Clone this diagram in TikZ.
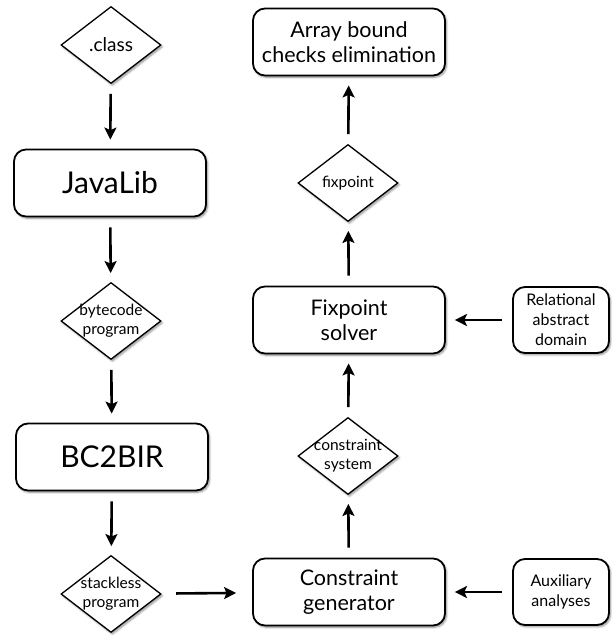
\documentclass[tikz,border=0pt]{standalone}
\usepackage{fontspec}
\setmainfont{Lato}
\usetikzlibrary{shapes.geometric,arrows.meta,shadows.blur}

\begin{document}
\begin{tikzpicture}[x=1pt,y=-1pt,
  shade/.style={blur shadow={shadow xshift=1.5pt,shadow yshift=-1.8pt,shadow blur steps=6,shadow opacity=45}},
  box/.style={draw, line width=1.8pt, rounded corners=12pt, fill=white, align=center, inner sep=0pt,
    minimum width=192pt, minimum height=67pt, font=\fontsize{21.5}{25}\selectfont, shade},
  bigbox/.style={box, font=\fontsize{30}{34}\selectfont},
  sidebox/.style={box, minimum width=96pt, minimum height=66pt, font=\fontsize{16}{20}\selectfont},
  data/.style={diamond, draw, line width=1.3pt, fill=white, align=center, inner sep=-10pt,
    minimum width=100pt, minimum height=77pt, font=\fontsize{15.5}{19}\selectfont, shade},
  flow/.style={-{Stealth[length=12pt,width=12pt,inset=2.5pt]}, line width=2.6pt, shorten <=10pt, shorten >=9pt}]
\useasboundingbox (0,0) rectangle (611,635);
% left column
\node[data, font=\fontsize{19}{22}\selectfont] (class) at (111,45) {.class};
\node[bigbox] (javalib) at (110,183) {JavaLib};
\node[data] (bytecode) at (111,321) {bytecode\\program};
\node[bigbox] (bc2bir) at (112,457) {BC2BIR};
\node[data] (stackless) at (111,594) {stackless\\program};
%
% right column
\node[box] (abce) at (349,42) {Array bound\\checks elimination};
\node[data] (fixpoint) at (348,183) {fixpoint};
\node[box] (solver) at (349,320) {Fixpoint\\solver};
\node[data] (system) at (348,456) {constraint\\system};
\node[box] (generator) at (349,592) {Constraint\\generator};
%
\node[sidebox] (domain) at (561,320) {Relational\\abstract\\domain};
\node[sidebox] (aux) at (561,592) {Auxiliary\\analyses};
%
\draw[flow] (class) -- (javalib);
\draw[flow] (javalib) -- (bytecode);
\draw[flow] (bytecode) -- (bc2bir);
\draw[flow] (bc2bir) -- (stackless);
\draw[flow, shorten <=15pt, shorten >=16pt] (stackless) -- (generator);
\draw[flow] (generator) -- (system);
\draw[flow] (system) -- (solver);
\draw[flow] (solver) -- (fixpoint);
\draw[flow] (fixpoint) -- (abce);
\draw[flow] (domain) -- (solver);
\draw[flow] (aux) -- (generator);
\end{tikzpicture}
\end{document}
